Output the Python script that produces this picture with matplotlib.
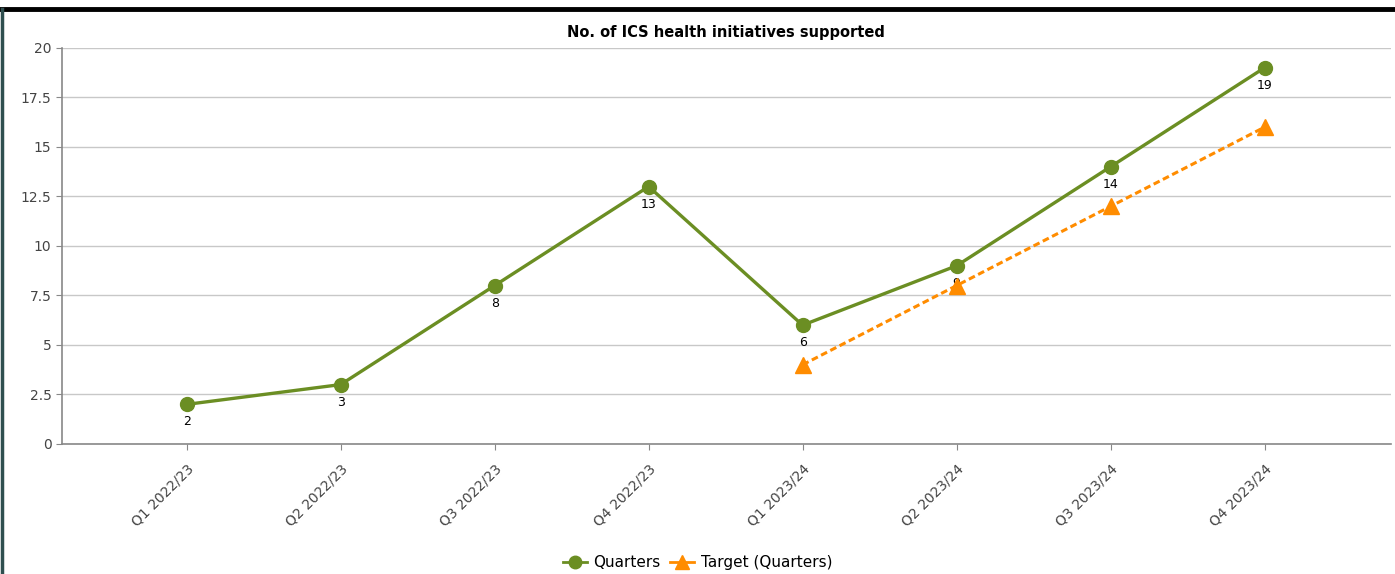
import numpy as np
import matplotlib.pyplot as plt
from matplotlib.lines import Line2D

quarters = ['Q1 2022/23', 'Q2 2022/23', 'Q3 2022/23', 'Q4 2022/23',
            'Q1 2023/24', 'Q2 2023/24', 'Q3 2023/24', 'Q4 2023/24']
actual = [2, 3, 8, 13, 6, 9, 14, 19]
target = [np.nan, np.nan, np.nan, np.nan, 4, 8, 12, 16]

green = '#6b8e23'
orange = '#ff8c00'

fig = plt.figure(figsize=(13.95, 5.74), dpi=100)
ax = fig.add_axes([0.0444, 0.2265, 0.9526, 0.69])

x = np.arange(len(quarters))
ax.plot(x, actual, '-o', color=green, lw=2.4, ms=10, zorder=3)
for xi, v in zip(x, actual):
    ax.annotate(str(v), (xi, v), xytext=(0, -8), textcoords='offset points',
                ha='center', va='top', fontsize=9, color='black', zorder=4)
ax.plot(x, target, '--^', color=orange, lw=2.2, ms=11, dashes=(2.2, 1.2), zorder=5)

ax.set_xlim(-0.81, 7.82)
ax.set_ylim(0, 20)
ax.set_yticks(np.arange(0, 20.1, 2.5))
ax.set_yticklabels(['0', '2.5', '5', '7.5', '10', '12.5', '15', '17.5', '20'])
ax.set_xticks(x)
ax.set_xticklabels(quarters, rotation=45, ha='right', rotation_mode='anchor')
ax.tick_params(colors='#888888', labelcolor='#444444', labelsize=10, length=4)
ax.tick_params(axis='x', pad=9)
for lbl in ax.get_xticklabels():
    lbl.set_x(lbl.get_position()[0])
ax.yaxis.grid(True, color='#c8c8c8', lw=1)
ax.set_axisbelow(True)
for s in ['top', 'right']:
    ax.spines[s].set_visible(False)
for s in ['left', 'bottom']:
    ax.spines[s].set_color('#888888')
    ax.spines[s].set_linewidth(1.2)

ax.set_title('No. of ICS health initiatives supported', fontsize=10.5,
             fontweight='bold', pad=8)

handles = [Line2D([], [], color=green, marker='o', lw=2, ms=9),
           Line2D([], [], color=orange, marker='^', lw=2, ms=10)]
fig.legend(handles, ['Quarters', 'Target (Quarters)'], loc='center',
           bbox_to_anchor=(0.5, 0.02), ncol=2, frameon=False, fontsize=11,
           handlelength=1.6, handletextpad=0.4, columnspacing=0.6)

# page frame fragments
fig.add_artist(Line2D([0, 1], [0.985, 0.985], color='black', lw=3.5,
                      transform=fig.transFigure))
fig.add_artist(Line2D([0.0015, 0.0015], [0, 0.985], color='#2f4f4f', lw=2.5,
                      transform=fig.transFigure))

fig.savefig('out.png', dpi=100)
